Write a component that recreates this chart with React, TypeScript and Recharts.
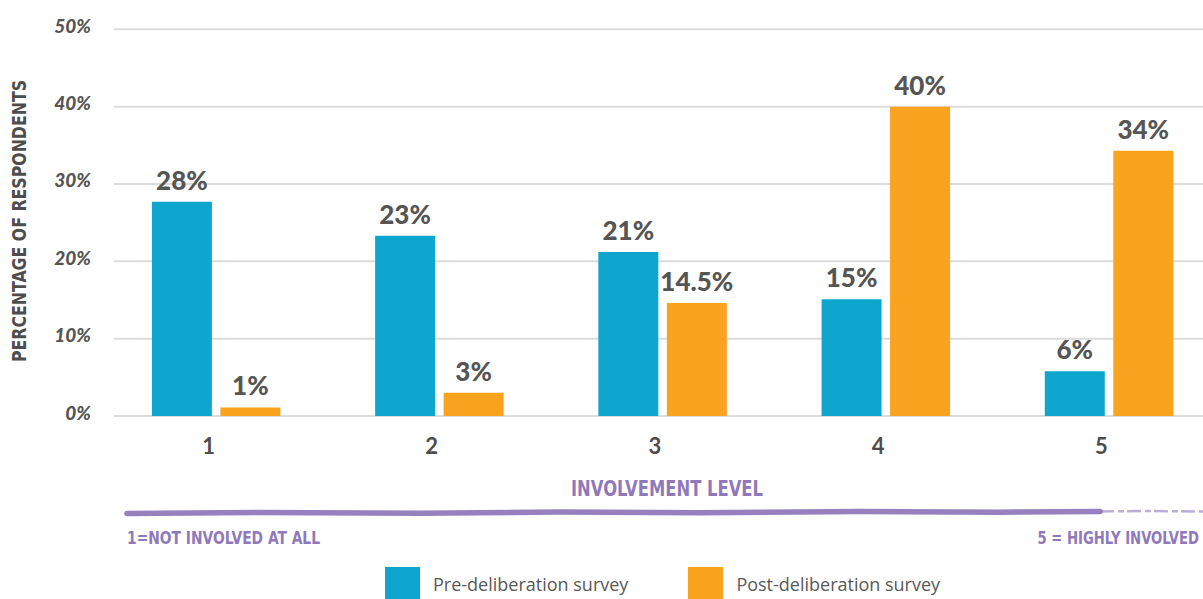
import React from 'react';
import { BarChart, Bar, XAxis, YAxis, CartesianGrid, LabelList, Legend } from 'recharts';

const categories = ['1', '2', '3', '4', '5'];
const preValues = [27.7, 23.3, 21.2, 15.1, 5.8];
const postValues = [1.1, 3.0, 14.6, 40.0, 34.3];
const preLabels = ['28%', '23%', '21%', '15%', '6%'];
const postLabels = ['1%', '3%', '14.5%', '40%', '34%'];
const yTicks = [0, 10, 20, 30, 40, 50];
const yTickLabels = ['0%', '10%', '20%', '30%', '40%', '50%'];

const seriesNames = ['Pre-deliberation survey', 'Post-deliberation survey'];
const BLUE = '#0ea6cf';
const ORANGE = '#f9a31e';
const PURPLE = '#9079bb';
const GRAY = '#555555';

const data = categories.map((c, i) => ({
  level: c,
  pre: preValues[i],
  post: postValues[i],
  preLabel: preLabels[i],
  postLabel: postLabels[i],
}));

const narrow = "'Liberation Sans Narrow', 'DejaVu Sans Condensed', 'Open Sans', sans-serif";
const hand = "Lato, 'Open Sans', sans-serif";

const YTick = (props: any) => {
  const { x, y, payload } = props;
  const idx = yTicks.indexOf(payload.value);
  return (
    <text
      x={x}
      y={y}
      dy={-4}
      textAnchor="end"
      dominantBaseline="central"
      fontFamily={hand}
      fontStyle="italic"
      fontWeight={900}
      fontSize={19}
      fill={GRAY}
    >
      {yTickLabels[idx]}
    </text>
  );
};

const XTick = (props: any) => {
  const { x, y, payload } = props;
  return (
    <text
      x={x - 8}
      y={y}
      dy={12}
      textAnchor="middle"
      dominantBaseline="hanging"
      fontFamily={hand}
      fontWeight={700}
      fontSize={22}
      fill="#4d4d4d"
    >
      {payload.value}
    </text>
  );
};

const gridLine = (p: any) => (
  <line
    key={p.key}
    x1={p.x1 + 9}
    y1={p.y1}
    x2={p.x2}
    y2={p.y2}
    stroke="#dcdcdc"
    strokeWidth={2}
  />
);

const LegendContent = (props: any) => {
  const items = [...(props.payload || [])].sort(
    (a: any, b: any) => seriesNames.indexOf(a.value) - seriesNames.indexOf(b.value)
  );
  return (
    <div style={{ display: 'flex', alignItems: 'center', height: 33 }}>
      {items.map((it: any, i: number) => (
        <div key={i} style={{ display: 'flex', alignItems: 'center', marginRight: 60 }}>
          <div style={{ width: 35, height: 33, background: it.color, marginRight: 13 }} />
          <span
            style={{
              fontFamily: "'Open Sans', sans-serif",
              fontSize: 18,
              color: '#595959',
              whiteSpace: 'nowrap',
            }}
          >
            {it.value}
          </span>
        </div>
      ))}
    </div>
  );
};

export default function App() {
  return (
    <div
      style={{
        position: 'fixed',
        left: 0,
        top: 0,
        width: 1203,
        height: 599,
        overflow: 'hidden',
        background: '#ffffff',
      }}
    >
      <BarChart
        width={1222}
        height={599}
        data={data}
        margin={{ top: 29.3, right: 1, bottom: 143, left: 14.9 }}
        barSize={60}
        barGap={8.5}
      >
        <CartesianGrid vertical={false} horizontal={gridLine} />
        <XAxis
          dataKey="level"
          axisLine={false}
          tickLine={false}
          height={40}
          tick={<XTick />}
          interval={0}
        />
        <YAxis
          type="number"
          domain={[0, 50]}
          ticks={yTicks}
          axisLine={false}
          tickLine={false}
          width={90}
          tickSize={0}
          tickMargin={14}
          tick={<YTick />}
          interval={0}
        />
        <Legend
          layout="horizontal"
          verticalAlign="middle"
          align="center"
          content={<LegendContent />}
          wrapperStyle={{ left: 385, top: 567, width: 700, height: 33 }}
        />
        <Bar dataKey="pre" name={seriesNames[0]} fill={BLUE} isAnimationActive={false}>
          <LabelList
            dataKey="preLabel"
            position="top"
            offset={12}
            fill={GRAY}
            fontFamily={hand}
            fontWeight={900}
            fontSize={26}
          />
        </Bar>
        <Bar dataKey="post" name={seriesNames[1]} fill={ORANGE} isAnimationActive={false}>
          <LabelList
            dataKey="postLabel"
            position="top"
            offset={12}
            fill={GRAY}
            fontFamily={hand}
            fontWeight={900}
            fontSize={26}
          />
        </Bar>
      </BarChart>
      <svg
        width={1203}
        height={599}
        style={{ position: 'absolute', left: 0, top: 0, pointerEvents: 'none' }}
      >
        <text
          x={19}
          y={221}
          transform="rotate(-90, 19, 221)"
          textAnchor="middle"
          dominantBaseline="central"
          fontFamily={narrow}
          fontWeight={700}
          fontSize={19}
          textLength={282}
          lengthAdjust="spacingAndGlyphs"
          fill="#4d4d4d"
        >
          PERCENTAGE OF RESPONDENTS
        </text>
        <text
          x={571}
          y={496}
          textAnchor="start"
          fontFamily={narrow}
          fontWeight={700}
          fontSize={21}
          textLength={192}
          lengthAdjust="spacingAndGlyphs"
          fill={PURPLE}
        >
          INVOLVEMENT LEVEL
        </text>
        <path
          d="M127,513.5 L260,512.5 L420,513.2 L560,512 L700,512.8 L860,511.6 L1000,512.2 L1100,511.4"
          stroke={PURPLE}
          strokeWidth={5.5}
          strokeLinecap="round"
          fill="none"
          opacity={0.95}
        />
        <path
          d="M1100,511.4 L1150,511 L1203,511.5"
          stroke={PURPLE}
          strokeWidth={2.5}
          strokeDasharray="14 4 6 3"
          fill="none"
          opacity={0.6}
        />
        <text
          x={127}
          y={544}
          textAnchor="start"
          fontFamily={narrow}
          fontWeight={700}
          fontSize={17.5}
          textLength={193}
          lengthAdjust="spacingAndGlyphs"
          fill={PURPLE}
        >
          1=NOT INVOLVED AT ALL
        </text>
        <g transform="translate(1199, 544) scale(0.84, 1)">
          <text
            x={0}
            y={0}
            textAnchor="end"
            fontFamily={narrow}
            fontWeight={700}
            fontSize={17.5}
            fill={PURPLE}
          >
            5 = HIGHLY INVOLVED
          </text>
        </g>
      </svg>
    </div>
  );
}
